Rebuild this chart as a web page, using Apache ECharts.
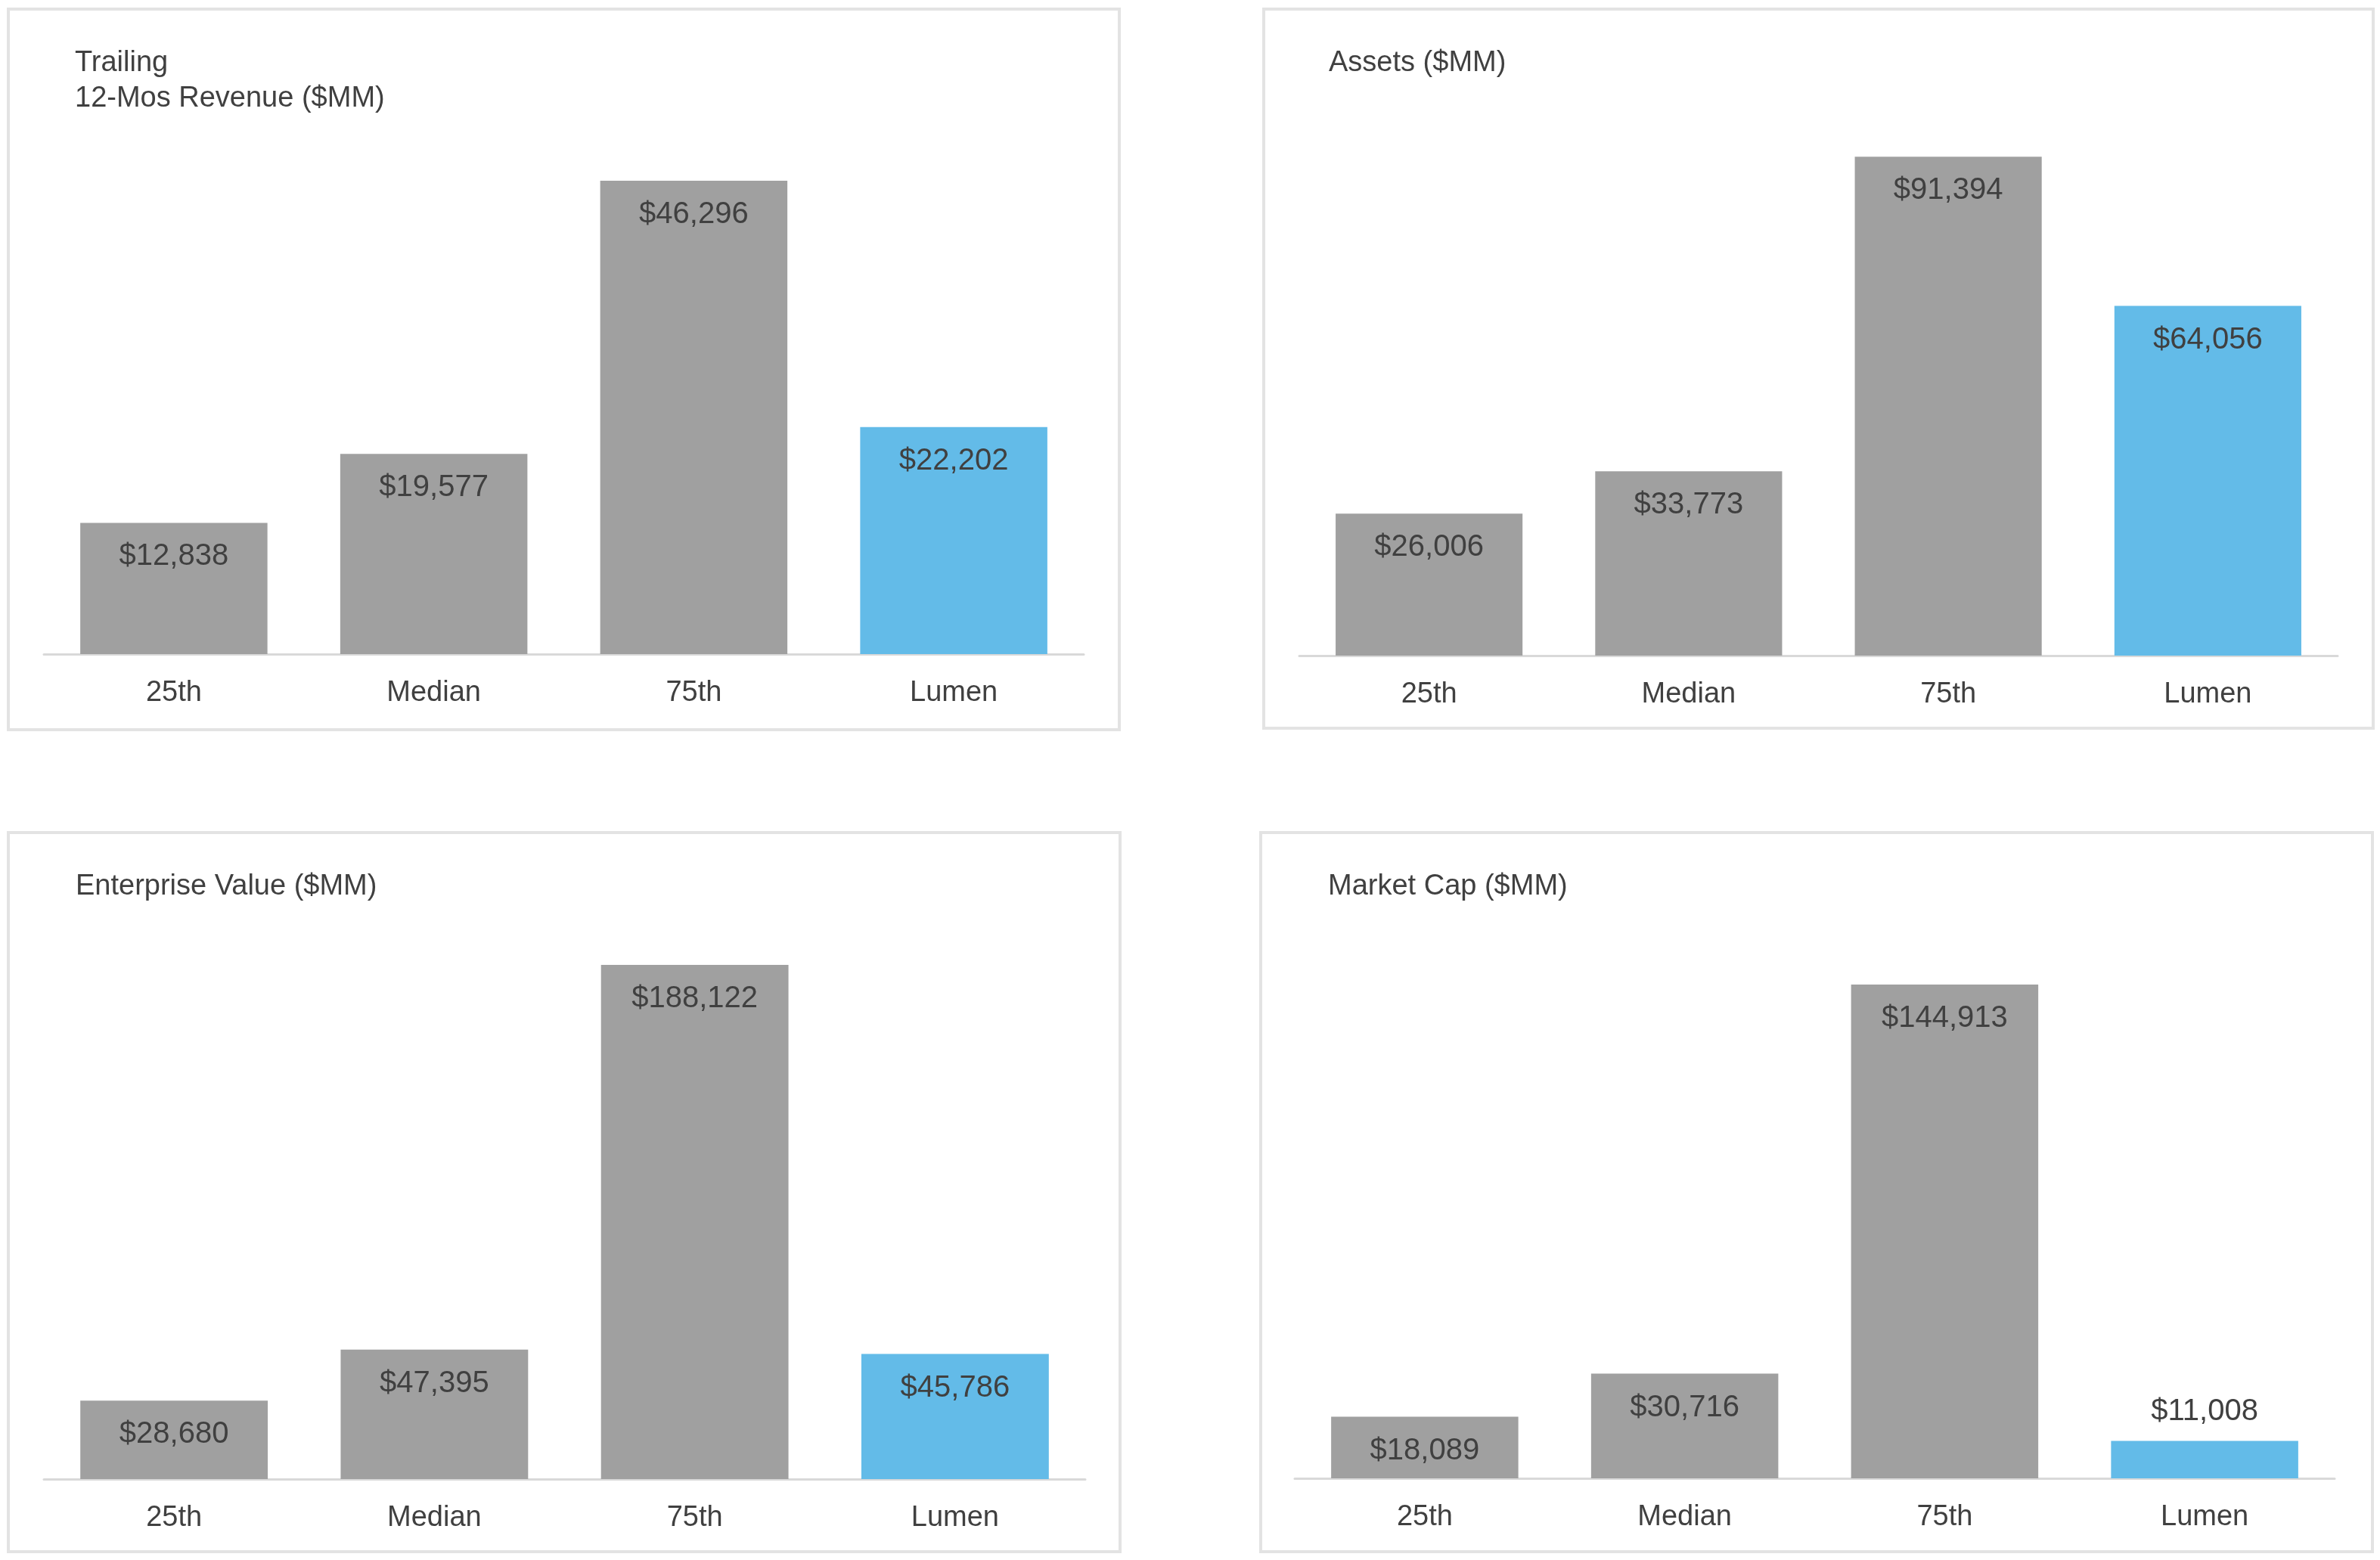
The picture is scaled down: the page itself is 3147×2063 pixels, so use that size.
<!DOCTYPE html>
<html>
<head>
<meta charset="utf-8">
<script src="https://cdn.jsdelivr.net/npm/echarts@6/dist/echarts.min.js"></script>
<style>
  html, body { margin: 0; padding: 0; background: #ffffff; }
  #chart { width: 3147px; height: 2063px; }
</style>
</head>
<body>
<div id="chart"></div>
<script>
// ---- data ----
const categories = ['25th', 'Median', '75th', 'Lumen'];
const revenue = [12838, 19577, 46296, 22202];
const assets = [26006, 33773, 91394, 64056];
const enterpriseValue = [28680, 47395, 188122, 45786];
const marketCap = [18089, 30716, 144913, 11008];
const panelTitles = ['Trailing\n12-Mos Revenue ($MM)', 'Assets ($MM)', 'Enterprise Value ($MM)', 'Market Cap ($MM)'];
const axisMax = [50000, 100000, 200000, 160000];
const highlightCategory = 'Lumen';

// ---- layout / style ----
const FONT = 'Liberation Sans';
const TEXT = '#404040';
const GRAY = '#a0a0a0';
const BLUE = '#63bbe8';
const seriesData = [revenue, assets, enterpriseValue, marketCap];
const grids = [
  { left: 58, top: 189, width: 1375, height: 676 },
  { left: 1718, top: 145, width: 1373, height: 722 },
  { left: 58, top: 1233, width: 1377, height: 723 },
  { left: 1712, top: 1234, width: 1375, height: 721 }
];
const frames = [
  { x: 11, y: 12, w: 1469, h: 953 },
  { x: 1671, y: 12, w: 1467, h: 951 },
  { x: 11, y: 1101, w: 1470, h: 951 },
  { x: 1667, y: 1101, w: 1470, h: 951 }
];
const titlePos = [
  { left: 99, top: 60 },
  { left: 1757, top: 60 },
  { left: 100, top: 1149 },
  { left: 1756, top: 1149 }
];

function money(v) { return '$' + v.toLocaleString('en-US'); }

const option = {
  backgroundColor: '#ffffff',
  animation: false,
  textStyle: { fontFamily: FONT },
  title: panelTitles.map((t, i) => ({
    text: t,
    left: titlePos[i].left,
    top: titlePos[i].top,
    padding: 0,
    textStyle: { fontFamily: FONT, fontSize: 38, fontWeight: 'normal', color: TEXT, lineHeight: 47 }
  })),
  graphic: frames.map(f => ({
    type: 'rect',
    shape: { x: f.x, y: f.y, width: f.w, height: f.h },
    style: { fill: 'none', stroke: '#e3e3e3', lineWidth: 4 },
    silent: true,
    z: -1
  })),
  grid: grids.map(g => Object.assign({ containLabel: false }, g)),
  xAxis: grids.map((g, i) => ({
    type: 'category',
    gridIndex: i,
    data: categories,
    axisLine: { show: true, lineStyle: { color: '#d9d9d9', width: 3 } },
    axisTick: { show: false },
    axisLabel: { margin: 33, fontFamily: FONT, fontSize: 38, color: TEXT },
    splitLine: { show: false }
  })),
  yAxis: grids.map((g, i) => ({
    type: 'value',
    gridIndex: i,
    min: 0,
    max: axisMax[i],
    show: false,
    splitLine: { show: false }
  })),
  series: seriesData.map((vals, i) => ({
    type: 'bar',
    xAxisIndex: i,
    yAxisIndex: i,
    barCategoryGap: '28%',
    data: vals.map((v, j) => {
      const small = v / axisMax[i] < 0.1;
      return {
        value: v,
        itemStyle: { color: categories[j] === highlightCategory ? BLUE : GRAY },
        label: {
          show: true,
          position: small ? 'top' : 'insideTop',
          distance: small ? 18 : 25,
          formatter: p => money(p.value),
          fontFamily: FONT,
          fontSize: 40,
          color: TEXT
        }
      };
    })
  }))
};

const chart = echarts.init(document.getElementById('chart'), null, { renderer: 'canvas' });
chart.setOption(option);
</script>
</body>
</html>
